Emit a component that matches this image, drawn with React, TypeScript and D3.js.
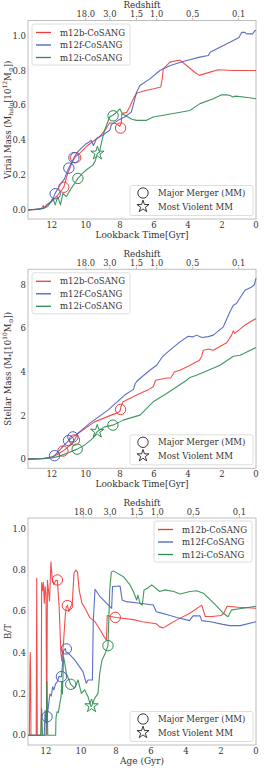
import * as d3 from "d3";

const seriesNames = ["m12b-CoSANG", "m12f-CoSANG", "m12i-CoSANG"];
const seriesColors = ["#f23b3b", "#4a5ec0", "#2e8c50"];

const redshiftLabels = ["18.0", "3.0", "1.5", "1.0", "0.5", "0.1"];
const redshiftAtLookback = [10.0, 8.59, 7.02, 5.84, 3.72, 1.02];
const redshiftAtAge = [9.87, 8.34, 6.82, 5.64, 3.58, 0.95];
const timeTicks = [12, 10, 8, 6, 4, 2, 0];

type Pt = [number, number];

// virial mass [1e12 Msun] vs lookback time [Gyr]
const mhaloB: Pt[] = [[13.4,0],[12.8,0.003],[12.6,0.01],[12.5,0.025],[12.45,0.01],[12.3,0.03],[12.0,0.05],[11.7,0.08],[11.45,0.11],[11.3,0.13],[11.1,0.2],[10.9,0.25],[10.67,0.3],[10.3,0.33],[9.9,0.37],[9.49,0.4],[9.2,0.42],[8.8,0.467],[8.6,0.5],[8.2,0.495],[8.0,0.48],[7.92,0.5],[7.88,0.553],[7.6,0.56],[7.41,0.594],[7.2,0.64],[7.02,0.67],[6.5,0.685],[6.0,0.695],[5.6,0.705],[5.5,0.76],[5.45,0.81],[5.06,0.848],[4.47,0.86],[4.08,0.829],[3.6,0.79],[3.33,0.772],[2.9,0.785],[2.22,0.804],[1.35,0.8],[0,0.8]];
const mhaloF: Pt[] = [[13.4,0],[12.5,0.01],[12.0,0.05],[11.82,0.092],[11.6,0.13],[11.4,0.16],[11.25,0.18],[11.1,0.22],[11.0,0.24],[10.85,0.27],[10.7,0.3],[10.5,0.33],[10.2,0.36],[9.98,0.38],[9.8,0.39],[9.69,0.4],[9.55,0.37],[9.37,0.41],[9.0,0.43],[8.59,0.457],[8.5,0.49],[8.1,0.514],[7.72,0.533],[7.33,0.561],[7.22,0.6],[7.02,0.676],[6.82,0.714],[6.24,0.752],[5.65,0.8],[5.0,0.83],[4.08,0.857],[3.3,0.877],[2.8,0.886],[2.7,0.905],[2.12,0.933],[1.53,0.962],[1.0,0.99],[0.84,1.019],[0.65,1.019],[0.55,1.01],[0.2,1.01],[0.05,1.03],[0,1.03]];
const mhaloI: Pt[] = [[13.4,0],[12.6,0.005],[12.24,0.02],[12.1,0.04],[11.94,0.067],[11.8,0.029],[11.65,0.076],[11.49,0.029],[11.35,0.095],[11.15,0.076],[10.86,0.124],[10.6,0.16],[10.47,0.181],[10.2,0.21],[9.98,0.229],[9.59,0.257],[9.45,0.28],[9.32,0.325],[9.2,0.33],[9.05,0.4],[8.9,0.457],[8.6,0.533],[8.4,0.545],[8.2,0.56],[8.0,0.58],[7.85,0.55],[7.7,0.543],[7.3,0.52],[7.02,0.514],[6.43,0.514],[6.04,0.533],[4.86,0.553],[3.88,0.571],[3.6,0.59],[3.29,0.61],[2.51,0.638],[2.02,0.661],[1.7,0.66],[1.53,0.657],[1.35,0.648],[1.2,0.653],[0.5,0.645],[0,0.638]];
const mhaloMM: Pt[][] = [[[11.3,0.13],[10.6,0.3],[7.96,0.47]],[[11.8,0.093],[11.0,0.24],[10.7,0.3]],[[10.47,0.181],[8.4,0.54]]];
const mhaloStar: Pt = [9.32, 0.325];

// stellar mass [1e10 Msun] vs lookback time [Gyr]
const mstarB: Pt[] = [[13.4,0],[12.5,0.03],[12.0,0.1],[11.7,0.2],[11.35,0.37],[11.0,0.6],[10.67,0.88],[10.47,1.18],[9.49,1.71],[8.51,2.02],[8.22,2.1],[8.0,2.2],[7.9,2.5],[7.81,2.63],[7.02,2.94],[6.3,3.2],[6.04,3.32],[5.9,3.62],[5.25,3.72],[5.0,3.73],[4.8,4.0],[4.47,4.08],[3.9,4.3],[3.33,4.54],[3.2,4.69],[3.1,5.0],[2.8,5.05],[2.51,5.0],[1.73,5.34],[1.43,5.69],[1.33,5.89],[1.25,5.77],[0.65,6.15],[0,6.45]];
const mstarF: Pt[] = [[13.4,0],[12.5,0.03],[12.0,0.1],[11.84,0.16],[11.5,0.45],[11.2,0.7],[11.02,0.85],[10.76,1.02],[10.47,1.18],[9.78,1.64],[8.7,2.25],[7.72,2.94],[7.2,3.2],[7.1,3.47],[7.02,3.55],[6.82,3.7],[6.24,4.08],[5.84,4.31],[5.5,4.7],[5.06,5.0],[4.47,5.38],[3.98,5.64],[3.7,5.61],[3.49,5.69],[3.19,5.58],[2.8,5.62],[2.51,5.69],[1.92,6.07],[1.53,6.76],[1.33,7.06],[1.15,7.14],[0.65,7.75],[0.25,7.9],[0.1,8.0],[0,8.29]];
const mstarI: Pt[] = [[13.4,0],[12.5,0.02],[12.0,0.05],[11.5,0.15],[11.0,0.3],[10.51,0.46],[10.08,0.64],[9.59,0.95],[9.33,1.27],[8.9,1.48],[8.41,1.56],[7.81,1.79],[6.82,2.02],[6.04,2.63],[5.25,3.01],[4.08,3.62],[3.88,3.75],[3.5,3.85],[2.9,4.04],[2.12,4.31],[1.33,4.72],[0.94,4.77],[0,5.12]];
const mstarMM: Pt[][] = [[[11.35,0.37],[10.67,0.88],[7.96,2.28]],[[11.84,0.16],[11.02,0.85],[10.76,1.02]],[[10.51,0.46],[8.41,1.56]]];
const mstarStar: Pt = [9.33, 1.27];

// bulge-to-total ratio vs age axis [Gyr]
const btB: Pt[] = [[13.03,0],[12.95,0],[12.92,0.32],[12.9,0.4],[12.88,0.3],[12.86,0],[12.56,0],[12.53,0.76],[12.5,0],[12.28,0],[12.25,0.74],[12.2,0.7],[12.15,0.74],[12.1,0.64],[12.05,0.72],[12.0,0.68],[11.96,0],[11.92,0.75],[11.8,0.65],[11.72,0.84],[11.65,0.76],[11.55,0.73],[11.45,0.75],[11.35,0.75],[11.25,0.62],[11.15,0.4],[11.1,0.36],[11.0,0.45],[10.9,0.58],[10.85,0.62],[10.78,0.63],[10.7,0.6],[10.6,0.62],[10.5,0.64],[10.4,0.785],[10.3,0.8],[10.2,0.79],[10.1,0.7],[9.95,0.64],[9.8,0.62],[9.5,0.57],[9.2,0.55],[8.9,0.51],[8.7,0.48],[8.55,0.46],[8.5,0.58],[8.3,0.575],[8.0,0.57],[7.0,0.56],[6.5,0.55],[5.7,0.54],[5.5,0.525],[5.3,0.52],[5.0,0.535],[4.5,0.56],[3.8,0.59],[3.1,0.63],[2.9,0.575],[2.5,0.575],[2.0,0.58],[1.85,0.59],[1.65,0.625],[1.0,0.62],[0,0.615]];
const btF: Pt[] = [[13.03,0],[12.1,0],[12.05,0.12],[12.0,0.06],[11.94,0.09],[11.85,0.15],[11.78,0.2],[11.7,0.19],[11.62,0.235],[11.55,0.22],[11.45,0.25],[11.35,0.26],[11.27,0.284],[11.12,0.284],[11.05,0.35],[11.0,0.41],[10.9,0.42],[10.84,0.4],[10.75,0.4],[10.36,0.365],[9.89,0.308],[9.7,0.252],[9.6,0.268],[9.35,0.268],[9.3,0.55],[9.2,0.707],[8.91,0.671],[8.53,0.639],[8.25,0.615],[8.2,0.72],[7.77,0.723],[7.65,0.655],[7.4,0.647],[6.63,0.639],[5.87,0.631],[5.7,0.598],[5.5,0.594],[5.1,0.585],[4.53,0.57],[3.8,0.555],[3.6,0.578],[3.2,0.578],[3.1,0.555],[2.6,0.55],[1.9,0.537],[1.5,0.531],[0.9,0.531],[0,0.55]];
const btI: Pt[] = [[13.03,0],[12.3,0],[12.25,0.13],[12.2,0],[12.0,0],[11.95,0.26],[11.9,0],[11.45,0],[11.43,0.085],[11.37,0.114],[11.3,0.11],[11.14,0.187],[11.1,0.26],[11.06,0.2],[11.0,0.38],[10.95,0.36],[10.84,0.3],[10.7,0.27],[10.59,0.247],[10.36,0.228],[10.17,0.268],[9.98,0.203],[9.8,0.22],[9.6,0.187],[9.45,0.142],[9.4,0.14],[9.22,0.179],[9.03,0.203],[8.93,0.3],[8.8,0.365],[8.6,0.4],[8.46,0.434],[8.36,0.703],[8.27,0.79],[8.15,0.796],[7.58,0.768],[7.2,0.728],[7.01,0.696],[6.82,0.655],[6.75,0.679],[6.63,0.639],[6.5,0.631],[6.4,0.704],[6.2,0.712],[5.96,0.728],[5.5,0.696],[5.2,0.704],[4.7,0.696],[4.34,0.684],[3.77,0.696],[3.4,0.7],[3.01,0.688],[2.4,0.639],[1.87,0.591],[1.6,0.574],[1.4,0.607],[0.73,0.615],[0,0.625]];
const btMM: Pt[][] = [[[11.35,0.752],[10.78,0.628],[8.04,0.571]],[[11.94,0.09],[11.12,0.284],[10.84,0.418]],[[10.59,0.247],[8.46,0.434]]];
const btStar: Pt = [9.4, 0.142];

const FONT = "DejaVu Serif, serif";
const TXT = "#333";
const LEFT = 28;
const RIGHT = 256;

interface PanelProps {
  top: number;
  bottom: number;
  xDomain: [number, number];
  yDomain: [number, number];
  yTicks: number[];
  yFmt: (v: number) => string;
  lines: Pt[][];
  circles: Pt[][];
  star: Pt;
  zPos: number[];
  xLabel: string;
  yLabel: any;
  legendRight?: boolean;
}

function Panel(p: PanelProps) {
  const x = d3.scaleLinear().domain(p.xDomain).range([LEFT, RIGHT]);
  const y = d3.scaleLinear().domain(p.yDomain).range([p.bottom, p.top]);
  const line = d3.line<Pt>().x((d) => x(d[0])).y((d) => y(d[1]));
  const star = d3.symbol().type(d3.symbolStar).size(55)();
  const smallStar = d3.symbol().type(d3.symbolStar).size(45)();
  const mid = (p.top + p.bottom) / 2;

  const lg = p.legendRight
    ? { x: 154, y: p.top + 3, w: 98, lx: 158, tx: 182 }
    : { x: 32, y: p.top + 3.5, w: 98, lx: 36, tx: 60 };

  return (
    <g>
      {/* frame */}
      <rect x={LEFT} y={p.top} width={RIGHT - LEFT} height={p.bottom - p.top} fill="white" stroke="#bdbdbd" strokeWidth={1} />

      {/* top redshift axis */}
      <text x={142} y={p.top - 12.3} fontSize={8.8} fontFamily={FONT} fill={TXT} textAnchor="middle">Redshift</text>
      {redshiftLabels.map((z, i) => (
        <g key={z}>
          <line x1={x(p.zPos[i])} x2={x(p.zPos[i])} y1={p.top} y2={p.top - 2.5} stroke="#bdbdbd" />
          <text x={x(p.zPos[i])} y={p.top - 3.2} fontSize={8.3} fontFamily={FONT} fill={TXT} textAnchor="middle">{z}</text>
        </g>
      ))}

      {/* x ticks */}
      {timeTicks.map((t) => (
        <text key={t} x={x(t)} y={p.bottom + 9} fontSize={8.5} fontFamily={FONT} fill={TXT} textAnchor="middle">{t}</text>
      ))}
      <text x={142} y={p.bottom + 18.5} fontSize={9} fontFamily={FONT} fill={TXT} textAnchor="middle">{p.xLabel}</text>

      {/* y ticks */}
      {p.yTicks.map((v) => (
        <text key={v} x={LEFT - 2} y={y(v) + 3} fontSize={8.5} fontFamily={FONT} fill={TXT} textAnchor="end">{p.yFmt(v)}</text>
      ))}
      <text transform={`translate(10.5,${mid}) rotate(-90)`} fontSize={8.5} fontFamily={FONT} fill={TXT} textAnchor="middle">{p.yLabel}</text>

      {/* series */}
      {p.lines.map((d, i) => (
        <path key={i} d={line(d) ?? ""} fill="none" stroke={seriesColors[i]} strokeWidth={1.1} strokeOpacity={0.9} strokeLinejoin="round" />
      ))}
      {p.circles.map((cs, i) =>
        cs.map((c, j) => (
          <circle key={`${i}-${j}`} cx={x(c[0])} cy={y(c[1])} r={5.2} fill="none" stroke={seriesColors[i]} strokeWidth={1} />
        ))
      )}
      <path d={star ?? ""} transform={`translate(${x(p.star[0])},${y(p.star[1])})`} fill="none" stroke={seriesColors[2]} strokeWidth={1} />

      {/* series legend */}
      <rect x={lg.x} y={lg.y} width={lg.w} height={41} rx={2} fill="white" fillOpacity={0.85} stroke="#d5d5d5" strokeWidth={0.8} />
      {seriesNames.map((n, i) => (
        <g key={n}>
          <line x1={lg.lx} x2={lg.lx + 15} y1={lg.y + 8.5 + i * 12.5} y2={lg.y + 8.5 + i * 12.5} stroke={seriesColors[i]} strokeWidth={1.3} />
          <text x={lg.tx} y={lg.y + 11.5 + i * 12.5} fontSize={8.5} fontFamily={FONT} fill={TXT}>{n}</text>
        </g>
      ))}

      {/* merger legend */}
      <rect x={130} y={p.bottom - 33.5} width={123} height={30} rx={2} fill="white" fillOpacity={0.85} stroke="#d5d5d5" strokeWidth={0.8} />
      <circle cx={143} cy={p.bottom - 26} r={5.2} fill="none" stroke="#222" strokeWidth={0.9} />
      <text x={158} y={p.bottom - 23} fontSize={8.5} fontFamily={FONT} fill={TXT}>Major Merger (MM)</text>
      <path d={smallStar ?? ""} transform={`translate(143,${p.bottom - 12.5})`} fill="none" stroke="#222" strokeWidth={0.9} />
      <text x={158} y={p.bottom - 9.5} fontSize={8.5} fontFamily={FONT} fill={TXT}>Most Violent MM</text>
    </g>
  );
}

export default function App() {
  return (
    <svg width={264} height={768} style={{ position: "absolute", left: 0, top: 0, background: "white" }}>
      <Panel
        top={20.5}
        bottom={219}
        xDomain={[13.4, 0]}
        yDomain={[-0.052, 1.087]}
        yTicks={[0, 0.2, 0.4, 0.6, 0.8, 1.0]}
        yFmt={d3.format(".1f")}
        lines={[mhaloB, mhaloF, mhaloI]}
        circles={mhaloMM}
        star={mhaloStar}
        zPos={redshiftAtLookback}
        xLabel="Lookback Time[Gyr]"
        yLabel={
          <>
            Virial Mass (M<tspan fontSize={6} dy={2}>halo</tspan>
            <tspan dy={-2}>[10</tspan>
            <tspan fontSize={6} dy={-3.5}>12</tspan>
            <tspan dy={3.5}>M</tspan>
            <tspan fontSize={6} dy={2}>⊙</tspan>
            <tspan dy={-2}>])</tspan>
          </>
        }
      />
      <Panel
        top={269.3}
        bottom={468.3}
        xDomain={[13.4, 0]}
        yDomain={[-0.42, 8.71]}
        yTicks={[0, 2, 4, 6, 8]}
        yFmt={d3.format("d")}
        lines={[mstarB, mstarF, mstarI]}
        circles={mstarMM}
        star={mstarStar}
        zPos={redshiftAtLookback}
        xLabel="Lookback Time[Gyr]"
        yLabel={
          <>
            Stellar Mass (M<tspan fontSize={6} dy={2}>*</tspan>
            <tspan dy={-2}>[10</tspan>
            <tspan fontSize={6} dy={-3.5}>10</tspan>
            <tspan dy={3.5}>M</tspan>
            <tspan fontSize={6} dy={2}>⊙</tspan>
            <tspan dy={-2}>])</tspan>
          </>
        }
      />
      <Panel
        top={518}
        bottom={745}
        xDomain={[13.03, 0]}
        yDomain={[-0.047, 1.052]}
        yTicks={[0, 0.2, 0.4, 0.6, 0.8, 1.0]}
        yFmt={d3.format(".1f")}
        lines={[btB, btF, btI]}
        circles={btMM}
        star={btStar}
        zPos={redshiftAtAge}
        xLabel="Age (Gyr)"
        yLabel={<>B/T</>}
        legendRight
      />
    </svg>
  );
}
